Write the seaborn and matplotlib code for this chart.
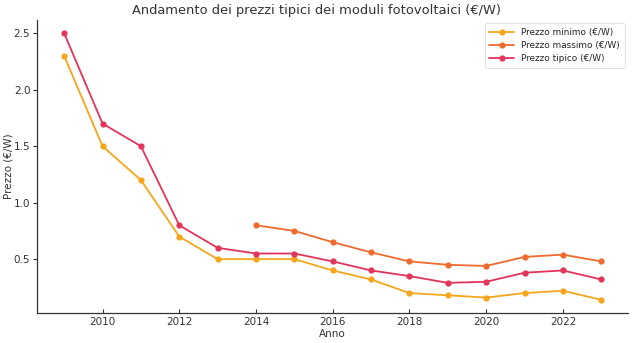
import numpy as np
import pandas as pd
import matplotlib
matplotlib.use("Agg")
import matplotlib.pyplot as plt
import seaborn as sns

anni = list(range(2009, 2024))
prezzo_minimo = [2.3, 1.5, 1.2, 0.7, 0.5, 0.5, 0.5, 0.40, 0.32, 0.20, 0.18, 0.16, 0.20, 0.22, 0.14]
prezzo_massimo = [np.nan, np.nan, np.nan, np.nan, np.nan, 0.80, 0.75, 0.65, 0.56, 0.48, 0.45, 0.44, 0.52, 0.54, 0.48]
prezzo_tipico = [2.5, 1.7, 1.5, 0.8, 0.6, 0.55, 0.55, 0.48, 0.40, 0.35, 0.29, 0.30, 0.38, 0.40, 0.32]

serie = ["Prezzo minimo (€/W)", "Prezzo massimo (€/W)", "Prezzo tipico (€/W)"]
colori = ["#f5a61c", "#ee6a2e", "#e3345a"]

df = pd.DataFrame({
    "Anno": anni * 3,
    "Prezzo": prezzo_minimo + prezzo_massimo + prezzo_tipico,
    "Serie": [serie[0]] * len(anni) + [serie[1]] * len(anni) + [serie[2]] * len(anni),
}).dropna()

sns.set_style("ticks")
plt.rcParams["font.family"] = ["DejaVu Sans"]

fig, ax = plt.subplots(figsize=(6.32, 3.43), dpi=100)
sns.lineplot(data=df, x="Anno", y="Prezzo", hue="Serie", hue_order=serie,
             palette=colori, marker="o", markersize=4.5, markeredgewidth=0,
             linewidth=1.3, ax=ax)

fig.suptitle("Andamento dei prezzi tipici dei moduli fotovoltaici (€/W)",
             fontsize=9.4, color="#333333", x=0.5, y=0.987, va="top")
ax.set_xlabel("Anno", fontsize=7.5, color="#333333", labelpad=1)
ax.set_ylabel("Prezzo (€/W)", fontsize=7.5, color="#333333", labelpad=0.5)
ax.set_xticks([2010, 2012, 2014, 2016, 2018, 2020, 2022])
ax.set_yticks([0.5, 1.0, 1.5, 2.0, 2.5])
ax.tick_params(labelsize=7.5, colors="#333333", length=3, width=0.8, pad=2)
ax.tick_params(axis="x", direction="in", pad=3)
for s in ["left", "bottom"]:
    ax.spines[s].set_color("#333333")
    ax.spines[s].set_linewidth(0.9)
sns.despine(ax=ax)

leg = ax.legend(loc="upper right", fontsize=6.4, frameon=True, handlelength=2.8,
                borderpad=0.55, labelspacing=0.45, borderaxespad=0.35)
leg.get_frame().set_edgecolor("#dddddd")
leg.get_frame().set_linewidth(0.8)

fig.subplots_adjust(left=0.059, right=0.994, top=0.942, bottom=0.087)
fig.savefig("out.png", dpi=100, facecolor="white")
